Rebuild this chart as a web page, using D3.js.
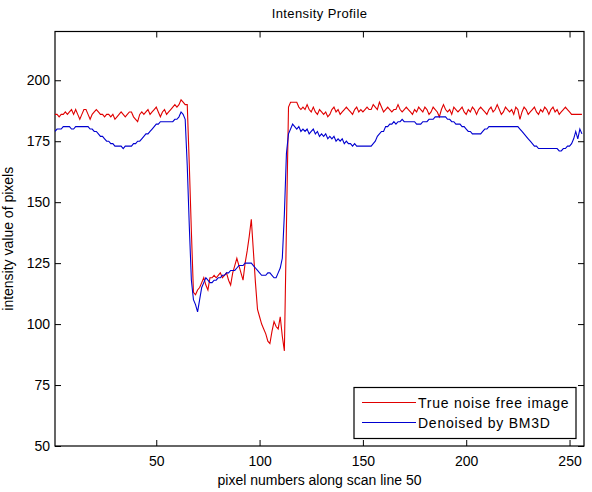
<!DOCTYPE html>
<html>
<head>
<meta charset="utf-8">
<script src="https://cdn.jsdelivr.net/npm/d3@7"></script>
<style>
  body { margin: 0; background: #fff; }
  text { font-family: "Liberation Sans", Arial, sans-serif; fill: #000; }
</style>
</head>
<body>
<script>
// Chart data (pixel index 1..256 along scan line 50)
var trueValues = [
  186,186,185,186,186,187,186,187,188,186,
  188,186,184,186,188,188,186,184,186,187,
  188,187,186,186,185,186,186,185,186,184,
  185,186,187,186,185,186,187,187,185,184,
  183,186,187,186,187,188,186,187,188,189,
  187,185,187,188,186,187,188,189,190,189,
  190,192,191,190,190,165,138,113,112,114,
  115,117,119,116,114,119,119,120,119,120,
  121,119,120,121,118,116,121,124,127,124,
  121,118,125,130,136,143,130,117,106,103,
  100,98,96,93,92,97,101,99,98,103,
  95,89,140,189,191,191,191,191,189,188,
  189,188,190,188,187,189,187,186,188,187,
  186,187,185,186,188,189,187,188,186,187,
  188,189,188,187,186,188,189,187,188,187,
  188,189,188,188,190,189,188,191,189,187,
  188,189,188,187,188,188,190,188,187,188,
  189,188,187,186,188,187,189,188,187,189,
  188,186,187,189,188,187,185,188,190,188,
  187,188,186,189,188,187,188,189,187,186,
  188,187,189,188,186,188,189,188,187,186,
  188,189,187,188,190,188,186,187,189,188,
  187,188,186,189,188,184,187,189,188,186,
  187,188,189,187,186,188,187,189,188,186,
  188,189,187,188,186,187,188,189,188,187,
  186,186,186,186,186,186
];
var bm3dValues = [
  179,180,180,180,181,181,181,181,180,180,
  181,181,181,181,181,181,181,180,180,179,
  179,178,177,177,176,175,175,174,174,173,
  173,173,173,172,173,173,173,173,174,174,
  175,175,176,177,178,178,179,180,181,182,
  182,183,183,183,183,183,183,183,184,184,
  185,187,186,184,165,140,118,110,108,105,
  110,115,117,119,118,117,117,118,118,119,
  119,120,120,121,121,122,122,122,123,124,
  124,124,125,125,125,125,124,123,122,121,
  120,120,120,121,121,120,119,119,121,123,
  127,145,170,178,180,182,181,180,181,179,
  180,179,180,178,179,180,178,179,177,178,
  177,178,176,177,176,177,175,176,175,176,
  174,175,174,174,173,174,173,173,173,173,
  173,173,173,173,174,175,177,178,179,179,
  181,181,182,182,183,182,183,183,184,183,
  183,183,183,183,183,182,182,182,183,183,
  183,184,184,184,185,185,185,185,185,185,
  184,184,183,183,182,182,182,181,181,180,
  179,179,178,178,178,178,178,179,180,180,
  181,181,181,181,181,181,181,181,181,181,
  181,181,181,181,181,180,179,178,177,176,
  175,174,173,173,172,172,172,172,172,172,
  172,172,172,172,171,171,172,172,173,173,
  174,176,179,176,180,178
];
var xTicks = [50, 100, 150, 200, 250];
var yTicks = [50, 75, 100, 125, 150, 175, 200];
var seriesNames = ["True noise free image", "Denoised by BM3D"];
var seriesColors = ["#e00000", "#0000d0"];

var svgWidth = 592;
var svgHeight = 492;
var margin = { top: 31.5, right: 8, bottom: 46, left: 55 };
var width = svgWidth - margin.left - margin.right;
var height = svgHeight - margin.top - margin.bottom;

var svg = d3.select("body")
  .append("svg")
  .attr("width", svgWidth)
  .attr("height", svgHeight);

var chartGroup = svg.append("g")
  .attr("transform", `translate(${margin.left}, ${margin.top})`);

var xScale = d3.scaleLinear().domain([1, 257]).range([0, width]);
var yScale = d3.scaleLinear().domain([50, 220]).range([height, 0]);

// axes, ticks pointing inwards like matlab
var tickLen = 6;
chartGroup.append("g")
  .attr("transform", `translate(0, ${height})`)
  .call(d3.axisBottom(xScale).tickValues(xTicks).tickSizeInner(-tickLen).tickSizeOuter(0).tickPadding(10))
  .call(g => g.selectAll("text").style("font-size", "14px"));

chartGroup.append("g")
  .call(d3.axisTop(xScale).tickValues(xTicks).tickSizeInner(-tickLen).tickSizeOuter(0).tickFormat(""));

chartGroup.append("g")
  .call(d3.axisLeft(yScale).tickValues(yTicks).tickSizeInner(-tickLen).tickSizeOuter(0).tickPadding(5))
  .call(g => g.selectAll("text").style("font-size", "14px"));

chartGroup.append("g")
  .attr("transform", `translate(${width}, 0)`)
  .call(d3.axisRight(yScale).tickValues(yTicks).tickSizeInner(-tickLen).tickSizeOuter(0).tickFormat(""));

chartGroup.selectAll(".domain").remove();
chartGroup.selectAll(".tick line").attr("stroke", "#000");
chartGroup.selectAll(".tick text").attr("font-family", null);

chartGroup.append("rect")
  .attr("width", width)
  .attr("height", height)
  .attr("fill", "none")
  .attr("stroke", "#000")
  .attr("stroke-width", 1.2);

// lines
var allSeries = [trueValues, bm3dValues];
var line = d3.line()
  .x((d, i) => xScale(i + 1))
  .y(d => yScale(d));

chartGroup.selectAll(".series")
  .data(allSeries)
  .enter()
  .append("path")
  .attr("class", "series")
  .attr("d", line)
  .attr("fill", "none")
  .attr("stroke", (d, i) => seriesColors[i])
  .attr("stroke-width", 1.1);

// legend
var legend = chartGroup.append("g")
  .attr("transform", `translate(${299}, ${356})`);

legend.append("rect")
  .attr("width", 222)
  .attr("height", 51)
  .attr("fill", "#fff")
  .attr("stroke", "#000")
  .attr("stroke-width", 1.2);

seriesNames.forEach(function(name, i) {
  legend.append("line")
    .attr("x1", 8).attr("x2", 62)
    .attr("y1", 15 + i * 20).attr("y2", 15 + i * 20)
    .attr("stroke", seriesColors[i])
    .attr("stroke-width", 1.1);
  legend.append("text")
    .attr("x", 64)
    .attr("y", 20 + i * 20)
    .style("font-size", "14px")
    .style("letter-spacing", "0.75px")
    .text(name);
});

// titles
svg.append("text")
  .attr("x", margin.left + width / 2)
  .attr("y", 18)
  .attr("text-anchor", "middle")
  .style("font-size", "13px")
  .style("letter-spacing", "0.4px")
  .text("Intensity Profile");

svg.append("text")
  .attr("x", margin.left + width / 2)
  .attr("y", 485)
  .attr("text-anchor", "middle")
  .style("font-size", "14px")
  .text("pixel numbers along scan line 50");

svg.append("text")
  .attr("transform", `translate(13, ${margin.top + height / 2}) rotate(-90)`)
  .attr("text-anchor", "middle")
  .style("font-size", "14px")
  .text("intensity value of pixels");
</script>
</body>
</html>
